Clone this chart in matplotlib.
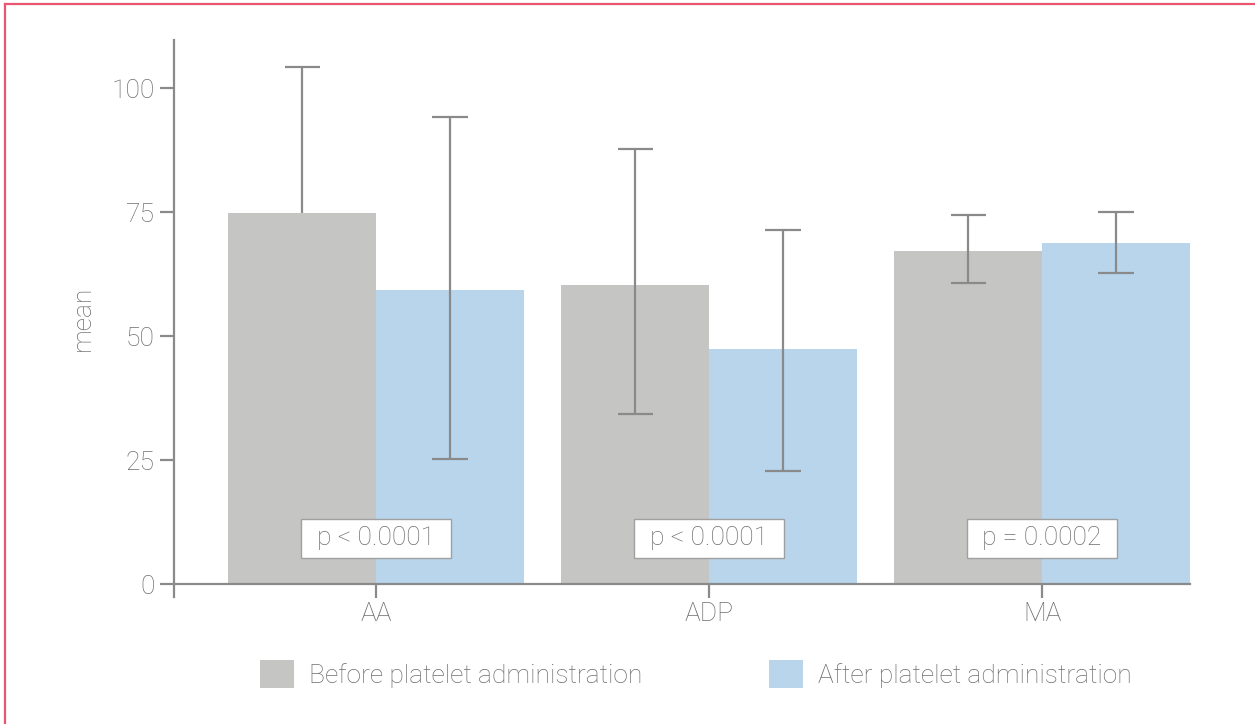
import numpy as np
import matplotlib.pyplot as plt
from matplotlib.lines import Line2D
from matplotlib.patches import Patch, Rectangle

# platelet function measures, before / after platelet administration
categories = ["AA", "ADP", "MA"]
before_mean = [74.8, 60.3, 67.1]
after_mean = [59.3, 47.4, 68.8]
before_err_hi = [29.4, 27.4, 7.3]
before_err_lo = [0.0, 26.0, 6.4]
after_err_hi = [34.9, 24.0, 6.3]
after_err_lo = [34.1, 24.6, 6.1]
p_labels = ["p < 0.0001", "p < 0.0001", "p = 0.0002"]

GREY = "#c5c6c4"
BLUE = "#b8d5ec"
TXT = "#6e6e6e"
LINE = "#8a8a8a"
PINK = "#e8566f"
FS = 19

plt.rcParams['font.family'] = ['Roboto', 'DejaVu Sans']
plt.rcParams['font.weight'] = 'light'

fig = plt.figure(figsize=(12.55, 7.24), dpi=100)
ax = fig.add_axes([0.1386, 0.1754, 0.8096, 0.7694])

x = np.arange(len(categories))
w = 0.444
ax.bar(x - w / 2, before_mean, width=w, color=GREY, zorder=2)
ax.bar(x + w / 2, after_mean, width=w, color=BLUE, zorder=2)


def draw_err(xs, means, lo, hi):
    cap = 0.053
    for xi, m, l, h in zip(xs, means, lo, hi):
        ax.vlines(xi, m - l, m + h, color=LINE, lw=1.6, zorder=3)
        ax.hlines(m + h, xi - cap, xi + cap, color=LINE, lw=1.6, zorder=3)
        if l > 0:
            ax.hlines(m - l, xi - cap, xi + cap, color=LINE, lw=1.6, zorder=3)


draw_err(x - w / 2, before_mean, before_err_lo, before_err_hi)
draw_err(x + w / 2, after_mean, after_err_lo, after_err_hi)

# p-value boxes
bw, bh, by = 0.45, 7.9, 9.2
for xi, lab in zip(x, p_labels):
    ax.add_patch(Rectangle((xi - bw / 2, by - bh / 2), bw, bh,
                           facecolor='white', edgecolor='#a0a0a0',
                           lw=1.0, zorder=4))
    ax.text(xi, by, lab, ha='center', va='center', fontsize=FS, color=TXT,
            zorder=5)

ax.set_xlim(-0.607, 2.444)
ax.set_ylim(-2.6, 109.7)
ax.set_xticks(x)
ax.set_xticklabels(categories)
ax.set_yticks([0, 25, 50, 75, 100])
ax.set_ylabel("mean", fontsize=FS, color=TXT, fontweight='light', labelpad=12)

for s in ['top', 'right']:
    ax.spines[s].set_visible(False)
ax.spines['bottom'].set_position(('data', 0))
for s in ['left', 'bottom']:
    ax.spines[s].set_color(LINE)
    ax.spines[s].set_linewidth(1.6)
ax.tick_params(axis='both', colors=LINE, labelcolor=TXT, labelsize=FS,
               length=10, width=1.6, pad=4)
ax.tick_params(axis='x', pad=3)

handles = [Patch(facecolor=GREY, edgecolor='none'),
           Patch(facecolor=BLUE, edgecolor='none')]
fig.legend(handles, ["Before platelet administration",
                     "After platelet administration"],
           loc='center', bbox_to_anchor=(0.5546, 0.069), ncol=2,
           frameon=False, fontsize=FS, labelcolor=TXT,
           handlelength=1.29, handleheight=1.29, handletextpad=0.57,
           columnspacing=4.8)

# pink frame along top and left edges
fig.add_artist(Line2D([5 / 1255, 1], [1 - 4 / 724, 1 - 4 / 724],
                      transform=fig.transFigure, color=PINK, lw=1.6))
fig.add_artist(Line2D([5 / 1255, 5 / 1255], [0, 1 - 4 / 724],
                      transform=fig.transFigure, color=PINK, lw=1.6))

fig.savefig("out.png", dpi=100)
